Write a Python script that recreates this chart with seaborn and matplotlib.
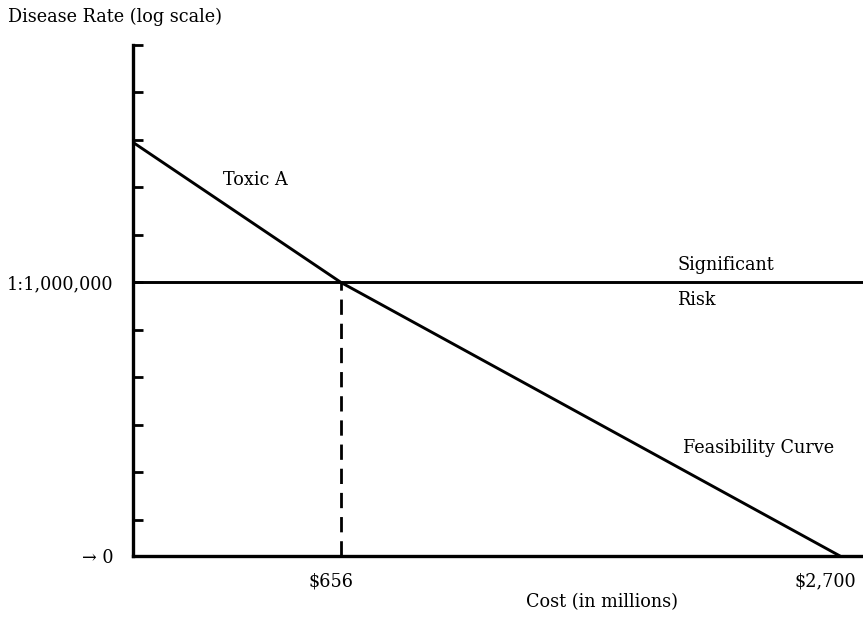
import numpy as np
import pandas as pd
import seaborn as sns
import matplotlib.pyplot as plt
import matplotlib.transforms as mtransforms

# data (x is the schematic position on the cost axis)
cost_labels = ["$656", "$2,700"]
cost_pos = [2.08, 7.07]
curve_x = [0.0, 2.08, 7.07]
curve_rate = [10 ** -3.05, 1e-6, 10 ** -11.76]
significant_risk = 1e-6
rate_ticks = [10.0 ** -k for k in range(1, 12)]

sns.set_style("ticks")
plt.rcParams['font.family'] = ['DejaVu Serif']
plt.rcParams['text.color'] = 'black'
fs = 12.7

df = pd.DataFrame({"cost": curve_x, "rate": curve_rate})

fig = plt.figure(figsize=(8.63, 6.18), dpi=100)
ax = fig.add_axes([133 / 863, 62 / 618, 730 / 863, 511 / 618])

sns.lineplot(data=df, x="cost", y="rate", color="black", linewidth=2.1, ax=ax)
ax.axhline(significant_risk, color="black", linewidth=2.1)
ax.plot([cost_pos[0], cost_pos[0]], [curve_rate[-1], significant_risk],
        color="black", linewidth=2.0, linestyle=(0, (5.5, 3.2)))

ax.set_yscale("log")
ax.set_ylim(curve_rate[-1], 1e-1)
ax.set_xlim(0, 7.30)

# axes look
sns.despine(ax=ax)
for s in ["left", "bottom"]:
    ax.spines[s].set_linewidth(2.4)
    ax.spines[s].set_color("black")
ax.set_yticks(rate_ticks + [curve_rate[-1]])
ax.yaxis.set_minor_locator(plt.NullLocator())
ylabels = ["1:1,000,000" if abs(np.log10(t) + 6) < 1e-9 else "" for t in rate_ticks] + ["\u2192 0"]
ax.set_yticklabels(ylabels, fontsize=fs, color="black")
ax.tick_params(axis="y", direction="in", length=7, width=2.0, pad=14, color="black")
ax.set_xticks(cost_pos)
ax.set_xticklabels(cost_labels, fontsize=fs, color="black")
ax.tick_params(axis="x", length=0, pad=12)
shifts = [-10, -15]
for lab, dx in zip(ax.get_xticklabels(), shifts):
    lab.set_transform(lab.get_transform() + mtransforms.ScaledTranslation(dx / 100, 0, fig.dpi_scale_trans))
ax.set_xlabel("Cost (in millions)", fontsize=fs, color="black")
ax.xaxis.set_label_coords(0.642, -0.072)
ax.set_ylabel("")

fig.text(8 / 863, 1 - 17 / 618, "Disease Rate (log scale)", fontsize=fs, va="center")

ax.text(0.9, 10 ** -3.84, "Toxic A", fontsize=fs, va="center")
ax.text(5.44, 10 ** -5.63, "Significant", fontsize=fs, va="center")
ax.text(5.44, 10 ** -6.37, "Risk", fontsize=fs, va="center")
ax.text(5.5, 10 ** -9.48, "Feasibility Curve", fontsize=fs, va="center")

fig.savefig("out.png", dpi=100)
